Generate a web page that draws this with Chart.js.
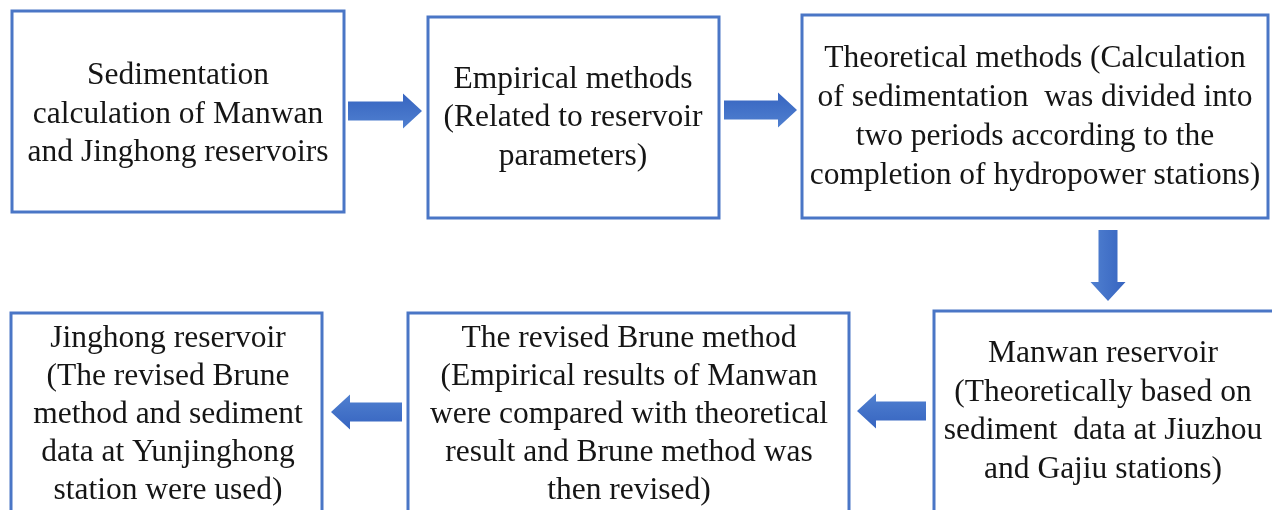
<!DOCTYPE html>
<html>
<head>
<meta charset="utf-8">
<script src="https://cdn.jsdelivr.net/npm/chart.js@4/dist/chart.umd.min.js"></script>
<style>
html,body{margin:0;padding:0;background:#ffffff;}
#wrap{width:1272px;height:510px;}
</style>
</head>
<body>
<div id="wrap"><canvas id="c" width="1272" height="510"></canvas></div>
<script>
// Flowchart nodes (in chart units: x 0..1272, y 0..510 downward)
const boxLabels = [
  ["Sedimentation", "calculation of Manwan", "and Jinghong reservoirs"],
  ["Empirical methods", "(Related to reservoir", "parameters)"],
  ["Theoretical methods (Calculation", "of sedimentation  was divided into", "two periods according to the", "completion of hydropower stations)"],
  ["Manwan reservoir", "(Theoretically based on", "sediment  data at Jiuzhou", "and Gajiu stations)"],
  ["The revised Brune method", "(Empirical results of Manwan", "were compared with theoretical", "result and Brune method was", "then revised)"],
  ["Jinghong reservoir", "(The revised Brune", "method and sediment", "data at Yunjinghong", "station were used)"]
];
const boxX0 = [12, 428, 802, 934, 408, 11];
const boxX1 = [344, 719, 1268, 1274, 849, 322];
const boxY0 = [11, 17, 15, 311, 313, 313];
const boxY1 = [212, 218, 218, 530, 530, 530];
const textCX = [178, 573, 1035, 1103, 629, 168];
const textCY = [114.5, 118, 117, 411.5, 414.5, 414.5];
const lineGap = [38.5, 38.5, 39, 38.5, 38, 38];

// Arrows: from (x0,y0) to tip (x1,y1)
const arrowX0 = [348, 724, 1108, 926, 402];
const arrowY0 = [111, 110, 230, 411, 412];
const arrowX1 = [422, 797, 1108, 857, 331];
const arrowY1 = [111, 110, 301, 411, 412];

const flowPlugin = {
  id: 'flow',
  afterDatasetsDraw(chart) {
    const ctx = chart.ctx;
    const xs = chart.scales.x, ys = chart.scales.y;
    ctx.save();
    // boxes
    ctx.strokeStyle = '#4a76c6';
    ctx.lineWidth = 3;
    ctx.fillStyle = '#ffffff';
    for (let i = 0; i < boxLabels.length; i++) {
      const x0 = xs.getPixelForValue(boxX0[i]), x1 = xs.getPixelForValue(boxX1[i]);
      const y0 = ys.getPixelForValue(boxY0[i]), y1 = ys.getPixelForValue(boxY1[i]);
      ctx.fillRect(x0, y0, x1 - x0, y1 - y0);
      ctx.strokeRect(x0, y0, x1 - x0, y1 - y0);
    }
    // text
    ctx.fillStyle = '#151515';
    ctx.font = '31.5px "Liberation Serif", "Times New Roman", serif';
    ctx.textAlign = 'center';
    ctx.textBaseline = 'middle';
    for (let i = 0; i < boxLabels.length; i++) {
      const lines = boxLabels[i];
      const lh = lineGap[i];
      const cx = xs.getPixelForValue(textCX[i]);
      const cy = ys.getPixelForValue(textCY[i]);
      const start = cy - (lines.length - 1) * lh / 2;
      lines.forEach((t, k) => ctx.fillText(t, cx, start + k * lh));
    }
    // arrows
    for (let i = 0; i < arrowX0.length; i++) {
      const ax = xs.getPixelForValue(arrowX0[i]), ay = ys.getPixelForValue(arrowY0[i]);
      const bx = xs.getPixelForValue(arrowX1[i]), by = ys.getPixelForValue(arrowY1[i]);
      const dx = bx - ax, dy = by - ay;
      const len = Math.hypot(dx, dy);
      const ux = dx / len, uy = dy / len;
      const px = -uy, py = ux;
      const shaftHalf = 9.5, headHalf = 17.5, headLen = 19;
      const hx = bx - ux * headLen, hy = by - uy * headLen;
      const g = ctx.createLinearGradient(ax + px * headHalf, ay + py * headHalf, ax - px * headHalf, ay - py * headHalf);
      g.addColorStop(0, '#5080d0');
      g.addColorStop(1, '#3664c0');
      ctx.fillStyle = g;
      ctx.beginPath();
      ctx.moveTo(ax + px * shaftHalf, ay + py * shaftHalf);
      ctx.lineTo(hx + px * shaftHalf, hy + py * shaftHalf);
      ctx.lineTo(hx + px * headHalf, hy + py * headHalf);
      ctx.lineTo(bx, by);
      ctx.lineTo(hx - px * headHalf, hy - py * headHalf);
      ctx.lineTo(hx - px * shaftHalf, hy - py * shaftHalf);
      ctx.lineTo(ax - px * shaftHalf, ay - py * shaftHalf);
      ctx.closePath();
      ctx.fill();
    }
    ctx.restore();
  }
};

new Chart(document.getElementById('c'), {
  type: 'scatter',
  data: { datasets: [{ data: [], pointRadius: 0 }] },
  options: {
    responsive: false,
    animation: false,
    layout: { padding: 0 },
    plugins: { legend: { display: false }, tooltip: { enabled: false } },
    scales: {
      x: { type: 'linear', min: 0, max: 1272, display: false },
      y: { type: 'linear', min: 0, max: 510, reverse: true, display: false }
    }
  },
  plugins: [flowPlugin]
});
</script>
</body>
</html>
